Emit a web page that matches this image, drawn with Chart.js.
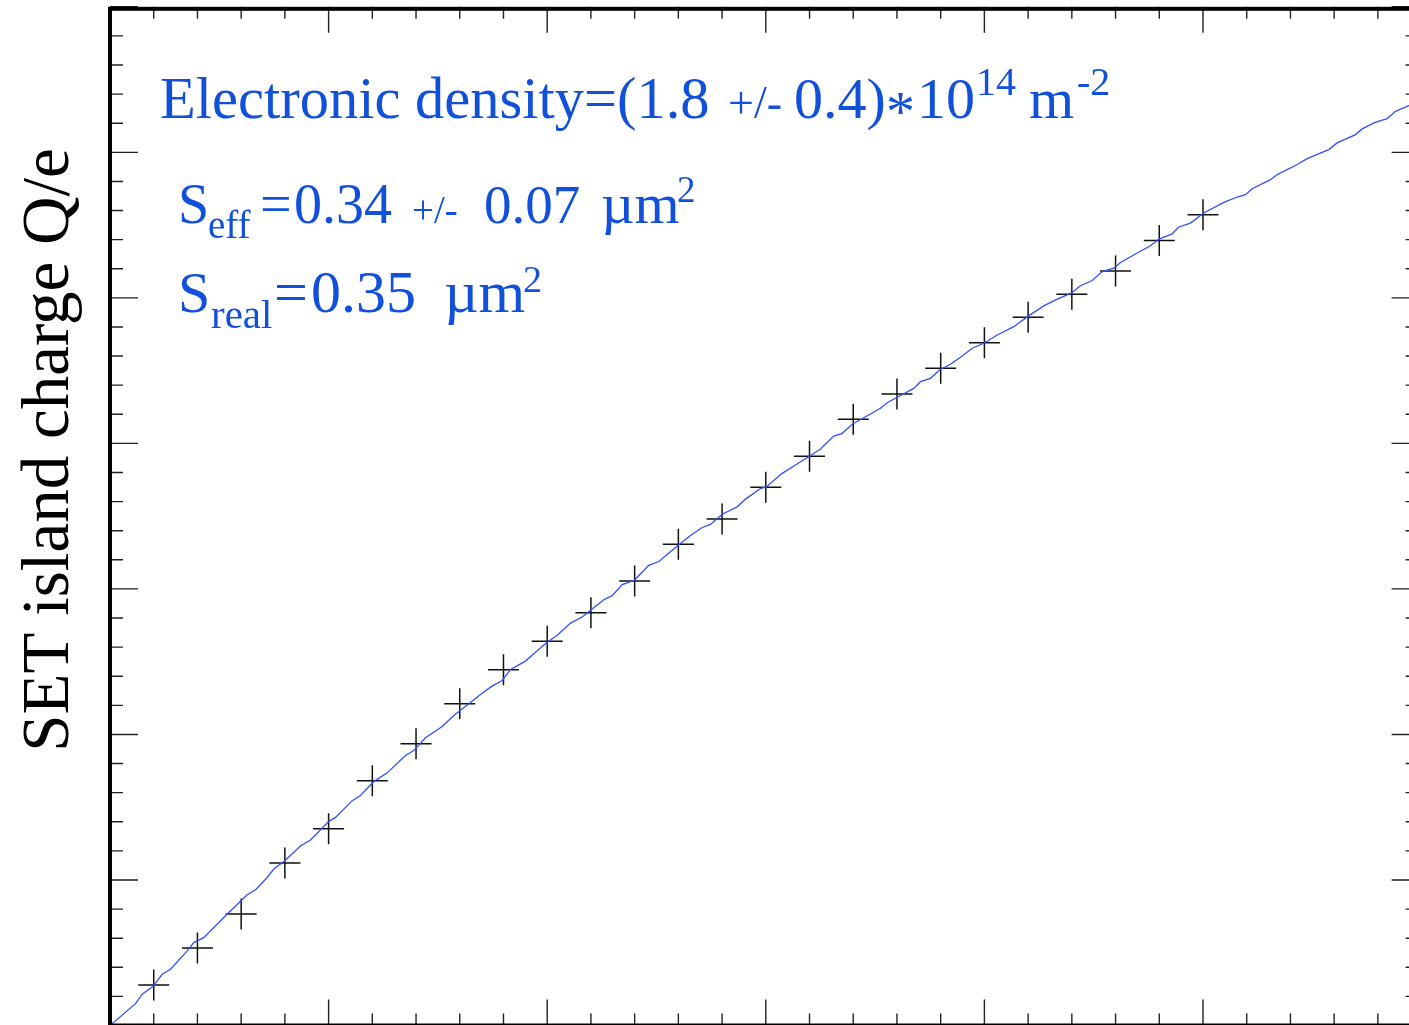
<!DOCTYPE html>
<html>
<head>
<meta charset="utf-8">
<script src="https://cdn.jsdelivr.net/npm/chart.js@4/dist/chart.umd.min.js"></script>
<style>
  html, body { margin: 0; padding: 0; overflow: hidden; background: #fff; }
  canvas { display: block; }
</style>
</head>
<body>
<canvas id="chargeChart" width="1440" height="1040" style="width:1440px;height:1040px"></canvas>
<script>
// measured points (x in minor-tick units, Q/e in axis units)
const pointX = [1, 2, 3, 4, 5, 6, 7, 8, 9, 10, 11, 12, 13, 14, 15, 16, 17, 18, 19, 20, 21, 22, 23, 24, 25];
const pointQ = [0.278, 0.533, 0.766, 1.117, 1.352, 1.682, 1.936, 2.211, 2.445, 2.640, 2.837, 3.054, 3.307,
  3.480, 3.698, 3.911, 4.165, 4.339, 4.516, 4.692, 4.866, 5.024, 5.184, 5.394, 5.571];

// simulated curve
const fitX = [0, 0.583, 0.737, 0.979, 1.194, 1.384, 1.766, 1.917, 2.145, 2.642, 3.138, 3.328, 3.596, 3.747,
  3.998, 4.357, 4.586, 5.005, 5.158, 5.540, 5.730, 6.034, 6.340, 6.759, 6.949, 7.216, 7.598, 7.864, 8.207,
  8.474, 8.703, 8.971, 9.161, 9.504, 9.693, 9.977, 10.229, 10.533, 10.800, 10.990, 11.295, 11.487, 11.715,
  11.990, 12.324, 12.553, 12.996, 13.278, 13.545, 13.735, 14.003, 14.346, 14.536, 14.879, 15.009, 15.375,
  15.679, 16.015, 16.251, 16.555, 16.747, 16.983, 17.241, 17.623, 17.777, 17.966, 18.385, 18.538, 18.767,
  18.973, 19.225, 19.453, 19.721, 19.986, 20.293, 20.672, 20.986, 21.358, 21.665, 21.985, 22.198, 22.465,
  22.694, 22.960, 23.113, 23.495, 23.799, 24.005, 24.295, 24.446, 24.714, 25.018, 25.476, 25.782, 25.972,
  26.125, 26.544, 26.697, 27.155, 27.383, 27.877, 28.069, 28.488, 28.641, 28.907, 29.213, 29.403, 29.707, 30.0];
const fitQ = [0, 0.150, 0.215, 0.267, 0.352, 0.387, 0.513, 0.570, 0.604, 0.754, 0.898, 0.933, 1.017, 1.075,
  1.132, 1.233, 1.275, 1.403, 1.430, 1.545, 1.580, 1.676, 1.736, 1.855, 1.889, 1.977, 2.054, 2.130, 2.211,
  2.275, 2.325, 2.371, 2.447, 2.504, 2.555, 2.628, 2.681, 2.765, 2.807, 2.853, 2.926, 2.954, 3.030,
  3.059, 3.162, 3.188, 3.300, 3.367, 3.422, 3.443, 3.513, 3.564, 3.617, 3.690, 3.701, 3.794,
  3.851, 3.915, 3.961, 4.050, 4.069, 4.133, 4.176, 4.241, 4.279, 4.310, 4.378, 4.424, 4.447,
  4.504, 4.544, 4.592, 4.654, 4.688, 4.745, 4.802, 4.871, 4.945, 4.991, 5.032, 5.083, 5.119,
  5.181, 5.204, 5.243, 5.308, 5.358, 5.406, 5.440, 5.487, 5.514, 5.583, 5.656, 5.693, 5.709,
  5.750, 5.812, 5.847, 5.916, 5.957, 6.019, 6.065, 6.122, 6.161, 6.202, 6.232, 6.282, 6.321, 6.356];

const xMax = 30;
const yMax = 7;
const xMinorStep = 1, xMajorEvery = 5;
const yMinorStep = 0.2, yMajorEvery = 5;

const yTitle = 'SET island charge Q/e';
const serif = '"Liberation Serif", "Times New Roman", serif';
const textBlue = '#1150da';

// text pieces: [text, left x, font size, baseline shift]
const noteLines = [
  { y: 118, runs: [['Electronic density=(1.8', 160, 58.5, 0], ['+/-', 728, 46, 0], ['0.4)', 794, 58, 0],
    ['*', 886, 58, 13], ['10', 917, 58, 0], ['14', 976, 40, -23], ['m', 1029, 58, 0], ['-2', 1077, 40, -23]] },
  { y: 223, runs: [['S', 178, 56, 0], ['eff', 208, 39, 15], ['=', 260, 56, 0], ['0.34', 294, 56, 0],
    ['+/-', 412, 39, 0], ['0.07', 484, 55, 0], ['\u00b5m', 601, 58, 0], ['2', 677, 37, -21]] },
  { y: 312, runs: [['S', 178, 58, 0], ['real', 211, 41, 16], ['=', 274, 60, 0], ['0.35', 311, 60, 0],
    ['\u00b5m', 444, 60, 0], ['2', 523, 38, -20]] }
];

const framePlugin = {
  id: 'frame',
  afterDraw(chart) {
    const ctx = chart.ctx;
    const xs = chart.scales.x, ys = chart.scales.y;
    const { left, right, top, bottom } = chart.chartArea;
    ctx.save();
    ctx.strokeStyle = '#222';
    ctx.lineWidth = 1.4;
    ctx.beginPath();
    for (let i = 0; i * xMinorStep <= xMax + 1e-9; i++) {
      const px = xs.getPixelForValue(i * xMinorStep);
      const major = i % xMajorEvery === 0;
      const len = major ? 26 : 12;
      ctx.moveTo(px, bottom); ctx.lineTo(px, bottom - len);
      ctx.moveTo(px, top); ctx.lineTo(px, top + len);
    }
    for (let i = 0; i * yMinorStep <= yMax + 1e-9; i++) {
      const py = ys.getPixelForValue(i * yMinorStep);
      const major = i % yMajorEvery === 0;
      ctx.moveTo(left, py); ctx.lineTo(left + (major ? 28 : 13), py);
      ctx.moveTo(right, py); ctx.lineTo(right - (major ? 30 : 16), py);
    }
    ctx.stroke();

    ctx.strokeStyle = '#000';
    ctx.lineWidth = 4;
    ctx.strokeRect(left, top + 2, right - left, bottom - top - 2);

    // y axis title
    ctx.fillStyle = '#000';
    ctx.font = '67px ' + serif;
    ctx.textAlign = 'center';
    ctx.textBaseline = 'alphabetic';
    ctx.translate(68, 450);
    ctx.rotate(-Math.PI / 2);
    ctx.fillText(yTitle, 0, 0);
    ctx.restore();

    // annotations
    ctx.save();
    ctx.fillStyle = textBlue;
    ctx.textAlign = 'left';
    ctx.textBaseline = 'alphabetic';
    noteLines.forEach(line => {
      line.runs.forEach(([t, x, size, dy]) => {
        ctx.font = size + 'px ' + serif;
        ctx.fillText(t, x, line.y + dy);
      });
    });
    ctx.restore();
  }
};

const ctx = document.getElementById('chargeChart').getContext('2d');

new Chart(ctx, {
  type: 'scatter',
  data: {
    datasets: [
      {
        label: 'fit',
        data: fitX.map((x, i) => ({ x: x, y: fitQ[i] })),
        showLine: true,
        borderColor: '#3050ff',
        borderWidth: 1.3,
        pointRadius: 0,
        tension: 0,
        order: 0
      },
      {
        label: 'data',
        data: pointX.map((x, i) => ({ x: x, y: pointQ[i] })),
        pointStyle: 'cross',
        pointRadius: 15.5,
        pointBorderWidth: 1.5,
        pointBorderColor: '#111',
        pointBackgroundColor: '#111',
        order: 1
      }
    ]
  },
  options: {
    responsive: false,
    devicePixelRatio: 1,
    animation: false,
    layout: {
      autoPadding: false,
      padding: { left: 110, top: 6.8, right: 18.4, bottom: 14.5 }
    },
    plugins: {
      legend: { display: false },
      tooltip: { enabled: false }
    },
    scales: {
      x: { type: 'linear', min: 0, max: xMax, display: false },
      y: { type: 'linear', min: 0, max: yMax, display: false }
    }
  },
  plugins: [framePlugin]
});
</script>
</body>
</html>
